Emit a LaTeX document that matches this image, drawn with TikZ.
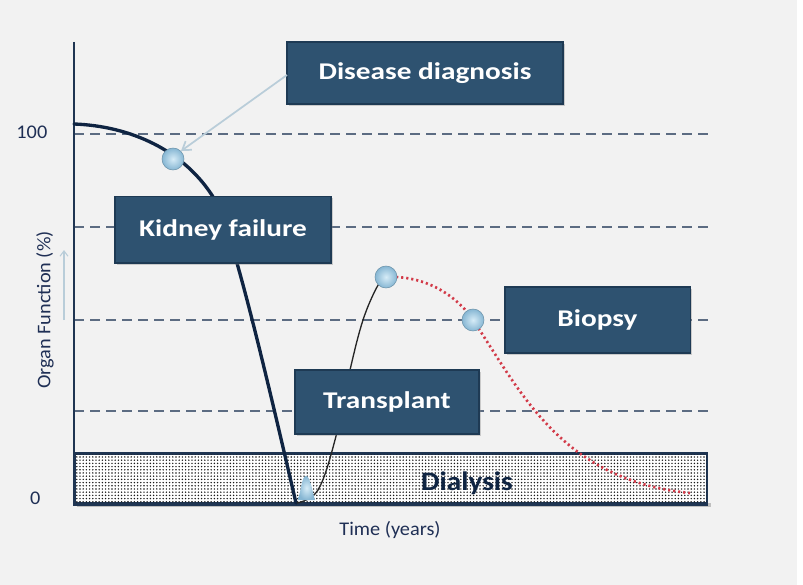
\documentclass[tikz,border=0pt]{standalone}
\usepackage{fontspec}
\setmainfont{Carlito}
\newfontfamily\boxfont[FakeStretch=1.22]{Carlito}
\newfontfamily\axfont[FakeStretch=1.05]{Carlito}
\newfontfamily\dialfont[FakeStretch=1.1]{Carlito}
\usetikzlibrary{patterns,patterns.meta,arrows.meta,shadows}
\tikzdeclarepattern{name=finedots, type=uncolored, bottom left={(-1.2pt,-1.2pt)}, top right={(1.2pt,1.2pt)}, tile size={(2.4pt,2.4pt)}, code={\fill (0,0) circle (0.6pt);}}
\definecolor{bg}{HTML}{F2F2F2}
\definecolor{boxfill}{HTML}{2E5270}
\definecolor{boxline}{HTML}{1E3A54}
\definecolor{navy}{HTML}{0F2442}
\definecolor{axisc}{HTML}{1F3552}
\definecolor{dashc}{HTML}{5C6C82}
\definecolor{redc}{HTML}{D23A48}
\definecolor{arrc}{HTML}{B9CDD9}
\definecolor{textc}{HTML}{1F2F55}
\definecolor{ballin}{HTML}{D6ECF7}
\definecolor{ballout}{HTML}{86B6D3}
\tikzset{
  lblbox/.style={draw=boxline, line width=1pt, fill=boxfill, text=white, font=\boxfont\bfseries\fontsize{18}{20}\selectfont, inner sep=0pt, drop shadow={shadow xshift=1.5pt, shadow yshift=-1.5pt, opacity=0.35}},
  gridline/.style={dashc, line width=1.3pt, dash pattern=on 7.5pt off 4.5pt},
  pt/.style={circle, minimum size=16.5pt, inner sep=0pt, draw=ballout!80!black, line width=0.4pt, inner color=ballin, outer color=ballout},
  axlbl/.style={text=textc, font=\axfont\fontsize{14.5}{16}\selectfont}
}
\begin{document}
\begin{tikzpicture}[x=0.75pt,y=-0.75pt]
\useasboundingbox (0,0) rectangle (803,585);
\fill[bg] (0,0) rectangle (803,585);
\fill[white] (797,0) rectangle (803,585);
% grid lines
\foreach \yy/\nm in {134/ga,227/gb,320/gc,411/gd}{
  \coordinate (\nm L) at (74,\yy);
  \coordinate (\nm R) at (708,\yy);
  \draw[gridline] (\nm L) -- (\nm R);
}
% dialysis band
\fill[black!25] (77,503) rectangle (711,507);
\node[draw=axisc, line width=1.2pt, fill=white, minimum width=474pt, minimum height=37pt, inner sep=0pt, anchor=north west] (dial) at (74,453) {};
\fill[pattern=finedots, pattern color=black!90] (dial.north west) rectangle (dial.south east);
\draw[axisc, line width=1.2pt] (dial.north west) rectangle (dial.south east);
\node[font=\dialfont\bfseries\fontsize{20}{22}\selectfont, text=navy] (dialtxt) at (467,483) {Dialysis};
% axes
\coordinate (o) at (74,505);
\coordinate (ytop) at (74,42);
\coordinate (xend) at (708,505);
\draw[axisc, line width=1.3pt] (ytop) -- (o) -- (xend);
% axis labels
\node[axlbl, anchor=east] (l100) at (52,132) {100};
\node[axlbl, anchor=east] (l0) at (45,498) {0};
\node[axlbl, rotate=90] (ylab) at (45,310) {Organ Function (\%)};
\coordinate (ya1) at (64,320);
\coordinate (ya2) at (64,250);
\draw[arrc, line width=0.8pt, -{Straight Barb[length=4pt,width=6pt]}] (ya1) -- (ya2);
\node[axlbl] (xlab) at (390,530) {Time (years)};
% curves
\coordinate (c0) at (74,124);
\coordinate (c1) at (215,200);
\coordinate (c2) at (296,503);
\draw[navy, line width=2.5pt, line cap=round] (c0) .. controls (130,126) and (185,150) .. (c1) .. controls (233,230) and (272,400) .. (c2);
\coordinate (t2) at (386,277);
\draw[black!85, line width=1pt] plot[smooth, tension=0.6] coordinates {(297,503) (318,490) (335,440) (350,370) (363,320) (377,287) (386,277)};
\coordinate (r1) at (473,320);
\coordinate (r2) at (690,493);
\draw[redc, line width=2pt, dash pattern=on 1.6pt off 2.2pt] (t2) .. controls (430,275) and (460,300) .. (r1) .. controls (520,390) and (560,480) .. (r2);
% small marker at bottom
\shade[inner color=ballin, outer color=ballout] (298,500) .. controls (301,490) and (302,476) .. (306,476) .. controls (310,476) and (312,490) .. (315,500) -- cycle;
% boxes
\node[lblbox, minimum width=207pt, minimum height=46.5pt] (dd) at (425,73) {Disease diagnosis};
\node[lblbox, minimum width=162pt, minimum height=50pt] (kf) at (223,229.5) {Kidney failure};
\node[lblbox, minimum width=138pt, minimum height=48pt] (tp) at (387,402) {Transplant};
\node[lblbox, minimum width=139pt, minimum height=49.5pt] (bp) at (597.5,320) {Biopsy};
% points
\node[pt] (p1) at (173,159) {};
\node[pt] (p2) at (386,277) {};
\node[pt] (p3) at (473,320) {};
% arrow
\coordinate (ds) at (287,75);
\draw[arrc, line width=1.3pt, -{Straight Barb[length=6pt,width=8pt]}] (ds) -- (p1.north east);
\end{tikzpicture}
\end{document}
